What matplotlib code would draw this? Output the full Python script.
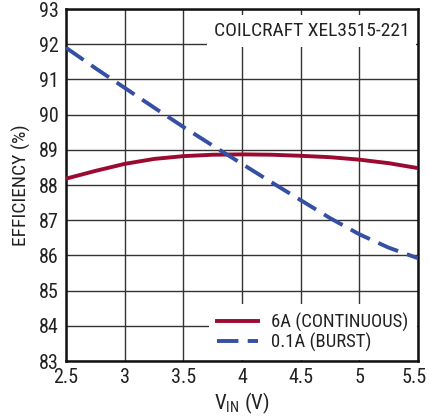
import matplotlib
matplotlib.use("Agg")
import matplotlib.pyplot as plt
from matplotlib.transforms import ScaledTranslation

plt.rcParams['font.family'] = ['Roboto Condensed', 'DejaVu Sans']
plt.rcParams['mathtext.fontset'] = 'custom'
plt.rcParams['mathtext.rm'] = 'Roboto Condensed'

vin = [2.5, 2.75, 3.0, 3.25, 3.5, 3.75, 4.0, 4.25, 4.5, 4.75, 5.0, 5.25, 5.5]
eff_6a = [88.18, 88.40, 88.60, 88.74, 88.82, 88.86, 88.87, 88.86, 88.83, 88.79, 88.72, 88.62, 88.48]
eff_01a = [91.90, 91.32, 90.76, 90.20, 89.65, 89.12, 88.60, 88.08, 87.57, 87.06, 86.60, 86.22, 85.92]

xticks = [2.5, 3, 3.5, 4, 4.5, 5, 5.5]
xticklabels = ['2.5', '3', '3.5', '4', '4.5', '5', '5.5']
yticks = list(range(83, 94))

red = '#9b0b31'
blue = '#3550a3'
textc = '#222222'

fig = plt.figure(figsize=(4.29, 4.19), dpi=100)
ax = fig.add_axes([66/429, 1 - 361/419, 352/429, 352/419])

ax.plot(vin, eff_6a, color=red, lw=2.8, label='6A (CONTINUOUS)', zorder=3)
ax.plot(vin, eff_01a, color=blue, lw=2.8, ls=(0, (5.5, 2.4)), label='0.1A (BURST)', zorder=3)

ax.set_xlim(2.5, 5.5)
ax.set_ylim(83, 93)
ax.set_xticks(xticks)
ax.set_xticklabels(xticklabels)
ax.set_yticks(yticks)
ax.tick_params(length=0, labelsize=14.5, pad=5, colors=textc)
ax.grid(True, color='#333333', lw=1.0)
ax.set_axisbelow(True)
for s in ax.spines.values():
    s.set_linewidth(1.8)
    s.set_color('#111111')

# keep the last x tick label inside the canvas
last = ax.get_xticklabels()[-1]
last.set_transform(last.get_transform() + ScaledTranslation(-4/100, 0, fig.dpi_scale_trans))

ax.set_xlabel('V$_{\\mathregular{IN}}$ (V)', fontsize=15, color=textc, labelpad=3)
ax.set_ylabel('EFFICIENCY (%)', fontsize=14, color=textc, labelpad=6)

ax.text(0.975, 0.962, 'COILCRAFT XEL3515-221', transform=ax.transAxes, ha='right', va='top',
        fontsize=14, color=textc, zorder=4,
        bbox=dict(facecolor='white', edgecolor='none', pad=5))

leg = ax.legend(loc='lower right', frameon=True, fontsize=13.5, handlelength=2.2,
                borderaxespad=0.05, labelspacing=0.05, handletextpad=0.7, borderpad=0.45)
leg.get_frame().set_edgecolor('none')
leg.get_frame().set_facecolor('white')
leg.get_frame().set_alpha(1)
for t in leg.get_texts():
    t.set_color(textc)

fig.savefig('out.png', dpi=100)
